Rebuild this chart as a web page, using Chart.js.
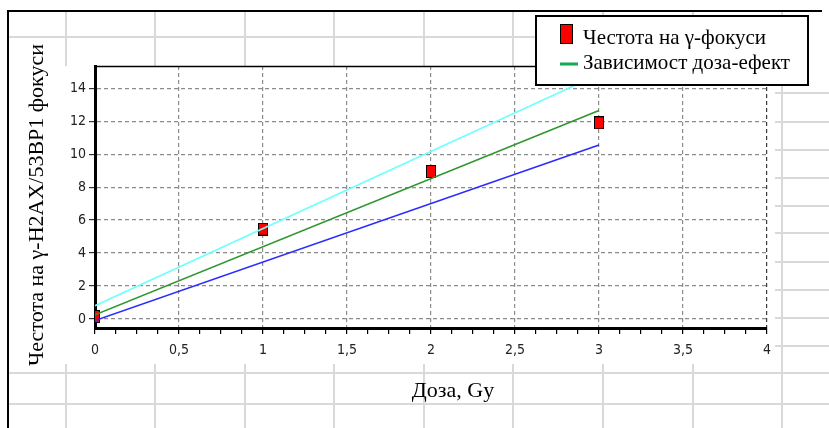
<!DOCTYPE html>
<html>
<head>
<meta charset="utf-8">
<script src="https://cdn.jsdelivr.net/npm/chart.js@4.4.1/dist/chart.umd.min.js"></script>
<style>
  html, body { margin: 0; padding: 0; background: #fff; }
  canvas { display: block; }
</style>
</head>
<body>
<canvas id="dosechart" width="829" height="428"></canvas>
<script>
// measured foci frequency per dose
const doses = [0, 1, 2, 3];
const fociCounts = [0.15, 5.45, 8.95, 11.9];
// dose-effect fit and its bounds (straight lines, read at the ends)
const fitDoses = [0, 3];
const fitValues = [0.25, 12.65];
const upperValues = [0.8, 14.85];
const lowerValues = [-0.1, 10.55];

const xTickValues = [0, 0.5, 1, 1.5, 2, 2.5, 3, 3.5, 4];
const xTickLabels = ["0", "0,5", "1", "1,5", "2", "2,5", "3", "3,5", "4"];
const yTickValues = [0, 2, 4, 6, 8, 10, 12, 14];
const yTickLabels = ["0", "2", "4", "6", "8", "10", "12", "14"];

const seriesLabels = ["Честота на γ-фокуси", "Зависимост доза-ефект", "Горна граница", "Долна граница"];
const xTitle = "Доза, Gy";
const yTitle = "Честота на γ-H2AX/53BP1 фокуси";

const tickFont = { family: "'Liberation Sans Narrow', 'DejaVu Sans Condensed', sans-serif", size: 14 };
const serif = "'Liberation Serif', 'DejaVu Serif', serif";

function makeMarker(w, h) {
  const c = document.createElement("canvas");
  c.width = w;
  c.height = h;
  const g = c.getContext("2d");
  g.fillStyle = "#ff0000";
  g.fillRect(0, 0, w, h);
  g.strokeStyle = "#000";
  g.lineWidth = 1;
  g.strokeRect(0.5, 0.5, w - 1, h - 1);
  return c;
}

// minor ticks on the dose axis every 1/8
const xMinorTicks = [];
for (let i = 0; i <= 32; i++) xMinorTicks.push(i / 8);

// spreadsheet cells behind the chart
const sheetBackground = {
  id: "sheetBackground",
  beforeDraw(chart) {
    const c = chart.ctx;
    c.save();
    c.fillStyle = "#fff";
    c.fillRect(0, 0, chart.width, chart.height);
    c.strokeStyle = "#d9d9d9";
    c.lineWidth = 2;
    c.beginPath();
    [66, 155, 245, 334, 424, 513, 603, 693, 782].forEach((x) => {
      c.moveTo(x, 10);
      c.lineTo(x, 428);
    });
    [37, 93, 122, 150, 178, 206, 233, 262, 290, 318, 346, 373, 404].forEach((y) => {
      c.moveTo(8, y);
      c.lineTo(829, y);
    });
    c.stroke();
    c.fillStyle = "#fff";
    c.fillRect(9, 38, 55, 327);
    c.fillRect(9, 66, 766, 298);
    c.fillRect(535, 16, 294, 70);
    c.strokeStyle = "#000";
    c.lineWidth = 2;
    c.beginPath();
    c.moveTo(7, 11);
    c.lineTo(822, 11);
    c.moveTo(8, 10);
    c.lineTo(8, 428);
    c.stroke();
    c.restore();
  },
};

// plot frame top, boxed legend and axis titles
const chartDecor = {
  id: "chartDecor",
  afterDraw(chart) {
    const c = chart.ctx;
    const area = chart.chartArea;
    c.save();
    c.strokeStyle = "#000";
    c.lineWidth = 1.5;
    c.beginPath();
    c.moveTo(area.left, area.top + 0.5);
    c.lineTo(area.right, area.top + 0.5);
    c.stroke();

    c.fillStyle = "#fff";
    c.fillRect(535, 15, 274, 71);
    c.lineWidth = 2;
    c.strokeRect(536, 16, 272, 69);

    c.drawImage(makeMarker(13, 20), 560, 24);
    c.strokeStyle = "#14a850";
    c.lineWidth = 3;
    c.beginPath();
    c.moveTo(560, 64);
    c.lineTo(578, 64);
    c.stroke();

    c.fillStyle = "#000";
    c.font = "21px " + serif;
    c.textAlign = "left";
    c.textBaseline = "alphabetic";
    c.fillText(chart.data.datasets[0].label, 583, 44);
    c.fillText(chart.data.datasets[1].label, 583, 69);

    c.font = "22px " + serif;
    c.textAlign = "center";
    c.fillText(xTitle, 453, 397);

    c.translate(43, 205);
    c.rotate(-Math.PI / 2);
    c.fillText(yTitle, 0, 0);
    c.restore();
  },
};

const ctx = document.getElementById("dosechart").getContext("2d");
const dosechart = new Chart(ctx, {
  type: "scatter",
  data: {
    datasets: [
      {
        label: seriesLabels[0],
        data: doses.map((d, i) => ({ x: d, y: fociCounts[i] })),
        pointStyle: makeMarker(10, 13),
        pointRadius: 6,
        order: 2,
      },
      {
        label: seriesLabels[1],
        data: fitDoses.map((d, i) => ({ x: d, y: fitValues[i] })),
        showLine: true,
        borderColor: "#2e962e",
        borderWidth: 1.6,
        pointRadius: 0,
        order: 1,
      },
      {
        label: seriesLabels[2],
        data: fitDoses.map((d, i) => ({ x: d, y: upperValues[i] })),
        showLine: true,
        borderColor: "#70ffff",
        borderWidth: 1.6,
        pointRadius: 0,
        order: 1,
      },
      {
        label: seriesLabels[3],
        data: fitDoses.map((d, i) => ({ x: d, y: lowerValues[i] })),
        showLine: true,
        borderColor: "#2b2bff",
        borderWidth: 1.6,
        pointRadius: 0,
        order: 1,
      },
    ],
  },
  options: {
    responsive: false,
    animation: false,
    events: [],
    layout: { padding: { left: 8, top: 66, right: 62, bottom: 0 } },
    plugins: { legend: { display: false }, tooltip: { enabled: false } },
    scales: {
      x: {
        type: "linear",
        min: 0,
        max: 4,
        afterBuildTicks: (scale) => {
          scale.ticks = xMinorTicks.map((v) => ({ value: v }));
        },
        afterFit: (scale) => {
          scale.height = 100;
        },
        ticks: {
          autoSkip: false,
          maxRotation: 0,
          padding: 8,
          color: "#222",
          font: tickFont,
          callback: (value) => {
            const i = xTickValues.indexOf(value);
            return i < 0 ? "" : xTickLabels[i];
          },
        },
        grid: {
          color: (context) => {
            const v = context.tick ? context.tick.value : 0;
            if (xTickValues.indexOf(v) < 0) return "rgba(0,0,0,0)";
            return v === 4 ? "#3a3a3a" : "#8c8c8c";
          },
          lineWidth: 1.2,
          tickColor: "#000",
          tickLength: 6,
        },
        border: { display: true, color: "#000", width: 3, dash: [4, 3] },
      },
      y: {
        type: "linear",
        min: -0.55,
        max: 15.35,
        afterBuildTicks: (scale) => {
          scale.ticks = yTickValues.map((v) => ({ value: v }));
        },
        afterFit: (scale) => {
          scale.width = 87;
        },
        ticks: {
          padding: 3,
          color: "#222",
          font: tickFont,
          callback: (value) => yTickLabels[yTickValues.indexOf(value)],
        },
        grid: {
          color: "#8c8c8c",
          lineWidth: 1.2,
          tickColor: "#333",
          tickLength: 6,
        },
        border: { display: true, color: "#000", width: 3, dash: [4, 3] },
      },
    },
  },
  plugins: [sheetBackground, chartDecor],
});
</script>
</body>
</html>
